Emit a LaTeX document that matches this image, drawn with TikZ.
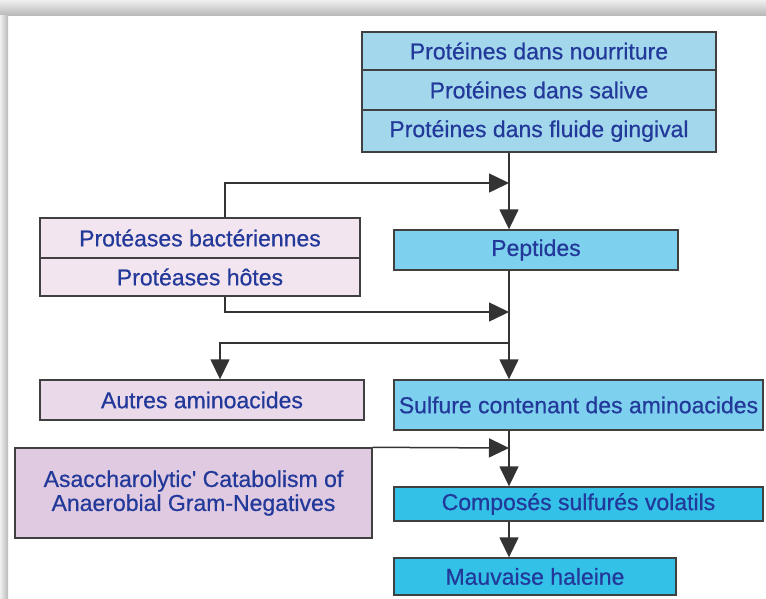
\documentclass[tikz,border=0pt]{standalone}
\usepackage{fontspec}
\setmainfont{Liberation Sans}[FakeBold=0.6]
\usetikzlibrary{arrows.meta}
\definecolor{inkblue}{HTML}{22399A}
\definecolor{paleblue}{HTML}{A3D8EC}
\definecolor{midblue}{HTML}{7DD0EE}
\definecolor{deepblue}{HTML}{33C1E8}
\definecolor{palepink}{HTML}{F3E5EF}
\definecolor{midpink}{HTML}{E9D9E9}
\definecolor{deeppink}{HTML}{DFCAE1}
\tikzset{
  stepbox/.style={draw=black!75, line width=1.4pt, text=inkblue, inner sep=0pt,
    font=\fontsize{23}{24}\selectfont, align=center},
  flow/.style={line width=1.5pt, draw=black!80, -{Triangle[length=20pt,width=19pt]}}
}
\begin{document}
\begin{tikzpicture}[x=1pt,y=-1pt]
		%%%%% FRAME %%%%%
		\useasboundingbox (0,0) rectangle (766,598);
		\fill[white] (0,0) rectangle (766,598);
		\shade[top color=gray!12, bottom color=gray!55] (0,0) rectangle (766,15);
		\shade[left color=gray!12, right color=gray!55] (0,15) rectangle (8,598);
		
		%%%%% BOXES %%%%%
		\node[stepbox, fill=paleblue, minimum width=354, minimum height=38] (pnour) at (539, 51) {Protéines dans nourriture};
		\node[stepbox, fill=paleblue, minimum width=354, minimum height=40] (psal) at (539, 90) {Protéines dans salive};
		\node[stepbox, fill=paleblue, minimum width=354, minimum height=42] (pfluid) at (539, 131) {Protéines dans fluide gingival};
		
		\node[stepbox, fill=palepink, minimum width=320, minimum height=40] (pbact) at (200, 238) {Protéases bactériennes};
		\node[stepbox, fill=palepink, minimum width=320, minimum height=38] (phote) at (200, 277) {Protéases hôtes};
		\node[stepbox, fill=midblue, minimum width=284, minimum height=40] (pept) at (536, 250) {Peptides};
		
		\node[stepbox, fill=midpink, minimum width=324, minimum height=40] (autres) at (202, 400) {Autres aminoacides};
		\node[stepbox, fill=midblue, minimum width=369, minimum height=50] (sulf) at (578.5, 405) {Sulfure contenant des aminoacides};
		
		\node[stepbox, fill=deeppink, minimum width=357, minimum height=90] (asacc) at (193.5, 493) {Asaccharolytic\textquotesingle{} Catabolism of\\Anaerobial Gram-Negatives};
		\node[stepbox, fill=deepblue, minimum width=369, minimum height=34] (volat) at (578.5, 504) {Composés sulfurés volatils};
		\node[stepbox, fill=deepblue, minimum width=282, minimum height=37] (haleine) at (535, 576.5) {Mauvaise haleine};
		
		%%%%% JUNCTIONS %%%%%
		\coordinate (j1) at (509, 183);
		\coordinate (j2) at (509, 312);
		\coordinate (j3) at (509, 343);
		\coordinate (j4) at (509, 448);
		\coordinate (l1) at (225, 183);
		\coordinate (l2) at (225, 312);
		\coordinate (l3) at (220, 343);
		
		%%%%% CONNECTORS %%%%%
		\draw[flow] (pfluid.south -| j1) -- (pept.north -| j1);
		\draw[flow] (pbact.north -| l1) -- (l1) -- (j1);
		\draw[flow] (pept.south -| j2) -- (sulf.north -| j2);
		\draw[flow] (phote.south -| l2) -- (l2) -- (j2);
		\draw[flow] (j3) -- (l3) -- (autres.north -| l3);
		\draw[flow] (sulf.south -| j4) -- (volat.north -| j4);
		\draw[flow] (asacc.north east) -- (j4);
		\draw[flow] (volat.south -| j4) -- (haleine.north -| j4);
\end{tikzpicture}
\end{document}
